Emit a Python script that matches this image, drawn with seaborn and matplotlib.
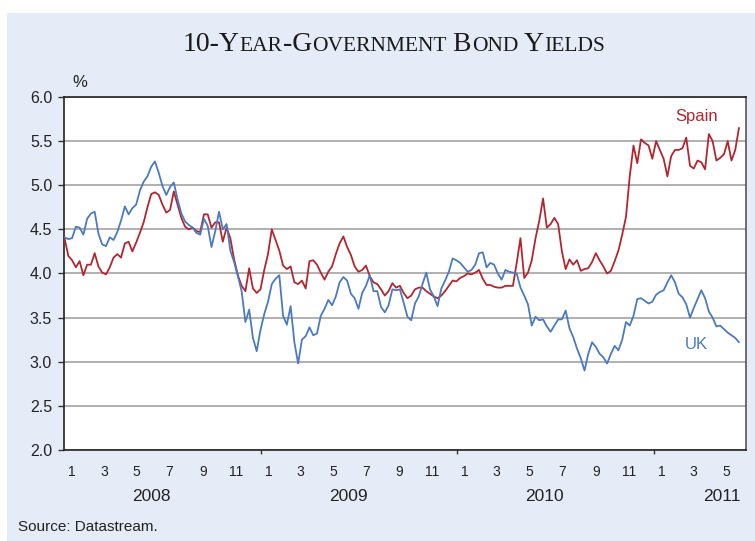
import numpy as np
import pandas as pd
import matplotlib
matplotlib.use("Agg")
import matplotlib.pyplot as plt
from matplotlib.patches import Rectangle
from matplotlib.offsetbox import TextArea, HPacker, AnnotationBbox
import seaborn as sns

# weekly readings, first week starting 2 Jan 2008
start_date = "2008-01-02"

uk = [
    4.41, 4.39, 4.40, 4.53, 4.52, 4.44, 4.62, 4.68, 4.70, 4.45,
    4.33, 4.31, 4.41, 4.38, 4.47, 4.60, 4.76, 4.67, 4.74, 4.78,
    4.94, 5.04, 5.10, 5.21, 5.27, 5.14, 4.99, 4.89, 4.98, 5.03,
    4.84, 4.68, 4.59, 4.55, 4.52, 4.46, 4.44, 4.62, 4.54, 4.30,
    4.48, 4.70, 4.50, 4.56, 4.26, 4.13, 3.97, 3.80, 3.45, 3.59,
    3.27, 3.12, 3.36, 3.54, 3.68, 3.88, 3.94, 3.98, 3.52, 3.42,
    3.63, 3.22, 2.98, 3.25, 3.29, 3.39, 3.30, 3.32, 3.52, 3.60,
    3.70, 3.64, 3.74, 3.90, 3.96, 3.92, 3.77, 3.72, 3.60, 3.78,
    3.86, 3.98, 3.80, 3.80, 3.62, 3.56, 3.64, 3.82, 3.81, 3.82,
    3.67, 3.51, 3.47, 3.66, 3.74, 3.88, 4.01, 3.82, 3.74, 3.63,
    3.83, 3.92, 4.02, 4.17, 4.15, 4.12, 4.07, 4.02, 4.04, 4.10,
    4.23, 4.24, 4.07, 4.12, 4.10, 4.00, 3.93, 4.04, 4.02, 4.01,
    4.00, 3.84, 3.75, 3.65, 3.41, 3.51, 3.47, 3.48, 3.40, 3.34,
    3.41, 3.48, 3.48, 3.58, 3.38, 3.28, 3.15, 3.04, 2.90, 3.09,
    3.22, 3.17, 3.09, 3.05, 2.98, 3.09, 3.18, 3.13, 3.25, 3.45,
    3.41, 3.52, 3.71, 3.72, 3.69, 3.66, 3.68, 3.76, 3.79, 3.81,
    3.90, 3.98, 3.90, 3.77, 3.73, 3.65, 3.50, 3.61, 3.71, 3.81,
    3.72, 3.57, 3.50, 3.40, 3.41, 3.37, 3.33, 3.30, 3.27, 3.22,
]

spain = [
    4.40, 4.20, 4.15, 4.07, 4.14, 3.98, 4.10, 4.10, 4.23, 4.08,
    4.01, 3.99, 4.07, 4.18, 4.22, 4.18, 4.34, 4.36, 4.25, 4.35,
    4.46, 4.58, 4.75, 4.90, 4.92, 4.89, 4.78, 4.69, 4.72, 4.93,
    4.78, 4.63, 4.53, 4.50, 4.52, 4.48, 4.47, 4.67, 4.67, 4.52,
    4.58, 4.58, 4.36, 4.52, 4.40, 4.16, 3.98, 3.86, 3.80, 4.06,
    3.83, 3.78, 3.82, 4.04, 4.22, 4.50, 4.38, 4.26, 4.09, 4.05,
    4.08, 3.90, 3.88, 3.92, 3.83, 4.14, 4.15, 4.10, 4.01, 3.93,
    4.02, 4.08, 4.22, 4.34, 4.42, 4.30, 4.21, 4.08, 4.02, 4.04,
    4.09, 3.97, 3.90, 3.88, 3.82, 3.75, 3.80, 3.89, 3.84, 3.86,
    3.78, 3.72, 3.75, 3.82, 3.84, 3.84, 3.80, 3.77, 3.74, 3.72,
    3.75, 3.80, 3.86, 3.92, 3.91, 3.95, 3.97, 4.00, 3.99, 4.01,
    4.04, 3.94, 3.87, 3.87, 3.85, 3.84, 3.84, 3.86, 3.86, 3.86,
    4.12, 4.40, 3.95, 4.01, 4.15, 4.40, 4.60, 4.85, 4.52, 4.56,
    4.63, 4.56, 4.25, 4.05, 4.16, 4.10, 4.15, 4.03, 4.05, 4.06,
    4.13, 4.23, 4.15, 4.08, 4.00, 4.03, 4.14, 4.26, 4.44, 4.64,
    5.10, 5.45, 5.25, 5.52, 5.48, 5.45, 5.30, 5.50, 5.40, 5.30,
    5.10, 5.33, 5.40, 5.40, 5.42, 5.54, 5.22, 5.19, 5.28, 5.26,
    5.18, 5.58, 5.50, 5.28, 5.31, 5.35, 5.50, 5.28, 5.40, 5.65,
]

years = [2008, 2009, 2010, 2011]
label_months = [1, 3, 5, 7, 9, 11]
y_ticks = [2.0, 2.5, 3.0, 3.5, 4.0, 4.5, 5.0, 5.5, 6.0]

RED = "#B3262F"
BLUE = "#4A7AC2"
PANEL = "#E6ECF7"
INK = "#222222"

dates = pd.date_range(start_date, periods=len(uk), freq="7D")
df = pd.concat([
    pd.DataFrame({"date": dates, "yield": spain, "country": "Spain"}),
    pd.DataFrame({"date": dates, "yield": uk, "country": "UK"}),
])

sns.set_style("white")
plt.rcParams["font.family"] = ["Liberation Sans", "DejaVu Sans"]

fig = plt.figure(figsize=(7.55, 5.41), dpi=100, facecolor="white")
fig.patches.append(Rectangle((7 / 755, 0), 1, 1 - 13 / 541, transform=fig.transFigure,
                             facecolor=PANEL, edgecolor="none", zorder=-10))

ax = fig.add_axes([64 / 755, 1 - 450 / 541, (746 - 64) / 755, (450 - 97) / 541])
ax.set_facecolor("white")

sns.lineplot(data=df, x="date", y="yield", hue="country",
             palette={"Spain": RED, "UK": BLUE}, linewidth=1.3,
             legend=False, ax=ax, zorder=3)

x_min, x_max = pd.Timestamp("2008-01-01"), pd.Timestamp("2011-06-21")
ax.set_xlim(x_min, x_max)
ax.set_ylim(2.0, 6.0)

# y axis
ax.set_yticks(y_ticks)
ax.set_yticklabels([f"{v:.1f}" for v in y_ticks])
ax.tick_params(axis="y", direction="out", length=4.5, width=1, color="#333333",
               labelsize=11.5, pad=4, labelcolor=INK, left=True)
ax.yaxis.grid(True, color="#A3A3A3", linewidth=1.2)
ax.xaxis.grid(False)
ax.set_axisbelow(True)

# x axis: year boundaries as ticks, odd months as labels
ax.set_xticks([pd.Timestamp(f"{y}-01-01") for y in years[1:]])
ax.set_xticklabels([])
ax.tick_params(axis="x", which="major", direction="out", length=3, width=1,
               color="#333333", bottom=True)
month_pos = [pd.Timestamp(f"{y}-{m:02d}-15") for y in years for m in label_months
             if pd.Timestamp(f"{y}-{m:02d}-15") < x_max]
month_lab = [str(d.month) for d in month_pos]
ax.set_xticks(month_pos, minor=True)
ax.set_xticklabels(month_lab, minor=True)
ax.tick_params(axis="x", which="minor", length=0, labelsize=10, pad=10.5,
               labelcolor=INK)

year_pos = ["2008-06-12", "2009-06-12", "2010-06-12", "2011-05-08"]
for y, p in zip(years, year_pos):
    ax.text(pd.Timestamp(p), -0.133, str(y), transform=ax.get_xaxis_transform(),
            ha="center", va="center", fontsize=12.5, color=INK)

ax.set_xlabel("")
ax.set_ylabel("")

for side in ["left", "bottom", "top"]:
    ax.spines[side].set_color(INK)
    ax.spines[side].set_linewidth(1.2)
ax.spines["right"].set_color("#555555")
ax.spines["right"].set_linewidth(1.2)

# series labels
ax.text(pd.Timestamp("2011-03-21"), 5.78, "Spain", color=RED, fontsize=12,
        ha="center", va="center")
ax.text(pd.Timestamp("2011-03-21"), 3.19, "UK", color=BLUE, fontsize=12,
        ha="center", va="center")

# title in small caps
big, small = 20, 15.5
pieces = [("10-Y", big), ("EAR", small), ("-G", big), ("OVERNMENT", small),
          (" B", big), ("OND", small), (" Y", big), ("IELDS", small)]
boxes = [TextArea(t, textprops=dict(fontsize=s, family=["Liberation Serif", "DejaVu Serif"],
                                     color="#1a1a1a"))
         for t, s in pieces]
title = HPacker(children=boxes, align="baseline", pad=0, sep=0)
fig.add_artist(AnnotationBbox(title, (394 / 755, 1 - 45 / 541), xycoords="figure fraction",
                              box_alignment=(0.5, 0.5), frameon=False))

fig.text(80 / 755, 1 - 83 / 541, "%", ha="center", va="center", fontsize=12, color=INK)
fig.text(18 / 755, 1 - 527 / 541, "Source: Datastream.", ha="left", va="center",
         fontsize=11, color=INK)

fig.savefig("out.png", dpi=100, facecolor=fig.get_facecolor())
